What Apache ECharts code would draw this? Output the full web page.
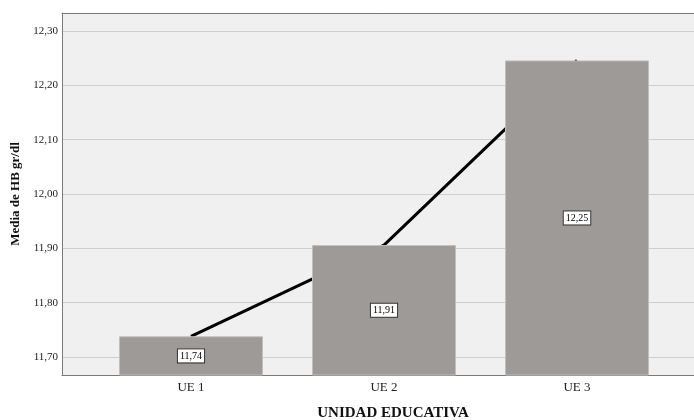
<!DOCTYPE html>
<html>
<head>
<meta charset="utf-8">
<script src="https://cdn.jsdelivr.net/npm/echarts@6/dist/echarts.min.js"></script>
<style>html,body{margin:0;padding:0;background:#fff;overflow:hidden}#c{width:694px;height:420px}</style>
</head>
<body>
<div id="c"></div>
<script>
const categories = ['UE 1', 'UE 2', 'UE 3'];
const meanHB = [11.738, 11.906, 12.246];
const yTicks = [11.7, 11.8, 11.9, 12.0, 12.1, 12.2, 12.3];
const yMin = 11.6667, yMax = 12.3333;

const serif = '"Liberation Serif", "DejaVu Serif", serif';
const fmt = v => Number(v).toFixed(2).replace('.', ',');
const frame = {show: true, onZero: false, lineStyle: {color: '#7a7a7a', width: 1}};

const chart = echarts.init(document.getElementById('c'), null, {renderer: 'canvas'});
chart.setOption({
  animation: false,
  grid: [
    {left: 62, right: 0, top: 13, bottom: 45, show: true, backgroundColor: '#f0f0f0', borderWidth: 0},
    {left: 94.5, right: 20.5, top: 13, bottom: 45}
  ],
  xAxis: [
    {gridIndex: 0, type: 'value', min: 0, max: 1, position: 'bottom', axisLine: frame,
     axisTick: {show: false}, axisLabel: {show: false}, splitLine: {show: false}},
    {gridIndex: 0, type: 'value', min: 0, max: 1, position: 'top', axisLine: frame,
     axisTick: {show: false}, axisLabel: {show: false}, splitLine: {show: false}},
    {gridIndex: 1, type: 'category', data: categories, boundaryGap: true,
     axisLine: {show: false}, axisTick: {show: false},
     axisLabel: {fontFamily: serif, fontSize: 13, color: '#222', margin: 6}}
  ],
  yAxis: [
    {gridIndex: 0, type: 'value', min: yMin, max: yMax,
     axisLine: frame,
     axisTick: {show: false, customValues: yTicks},
     axisLabel: {customValues: yTicks, formatter: fmt, fontFamily: serif, fontSize: 11, color: '#222', margin: 4},
     splitLine: {show: true, lineStyle: {color: '#cfcfcf', width: 1}},
     name: 'Media de HB gr/dl', nameLocation: 'middle', nameGap: 38,
     nameTextStyle: {fontFamily: serif, fontSize: 13, fontWeight: 'bold', color: '#111'}},
    {gridIndex: 1, type: 'value', min: yMin, max: yMax, show: false, splitLine: {show: false}}
  ],
  graphic: [{
    type: 'text', x: 393, y: 413,
    style: {text: 'UNIDAD EDUCATIVA', font: 'bold 15px ' + serif, fill: '#111', textAlign: 'center', textVerticalAlign: 'middle'}
  }],
  series: [
    {type: 'line', xAxisIndex: 2, yAxisIndex: 1, data: meanHB, z: 1, symbol: 'none',
     lineStyle: {color: '#000', width: 3}},
    {type: 'bar', xAxisIndex: 2, yAxisIndex: 1, data: meanHB, z: 3, barWidth: 144,
     itemStyle: {color: '#9e9a98', borderColor: '#c2bebc', borderWidth: 1},
     label: {show: true, position: 'inside', formatter: p => fmt(p.value),
       fontFamily: serif, fontSize: 10, color: '#000', backgroundColor: '#fff',
       borderColor: '#333', borderWidth: 1, padding: [2, 2, 1, 2]}}
  ]
});
</script>
</body>
</html>
